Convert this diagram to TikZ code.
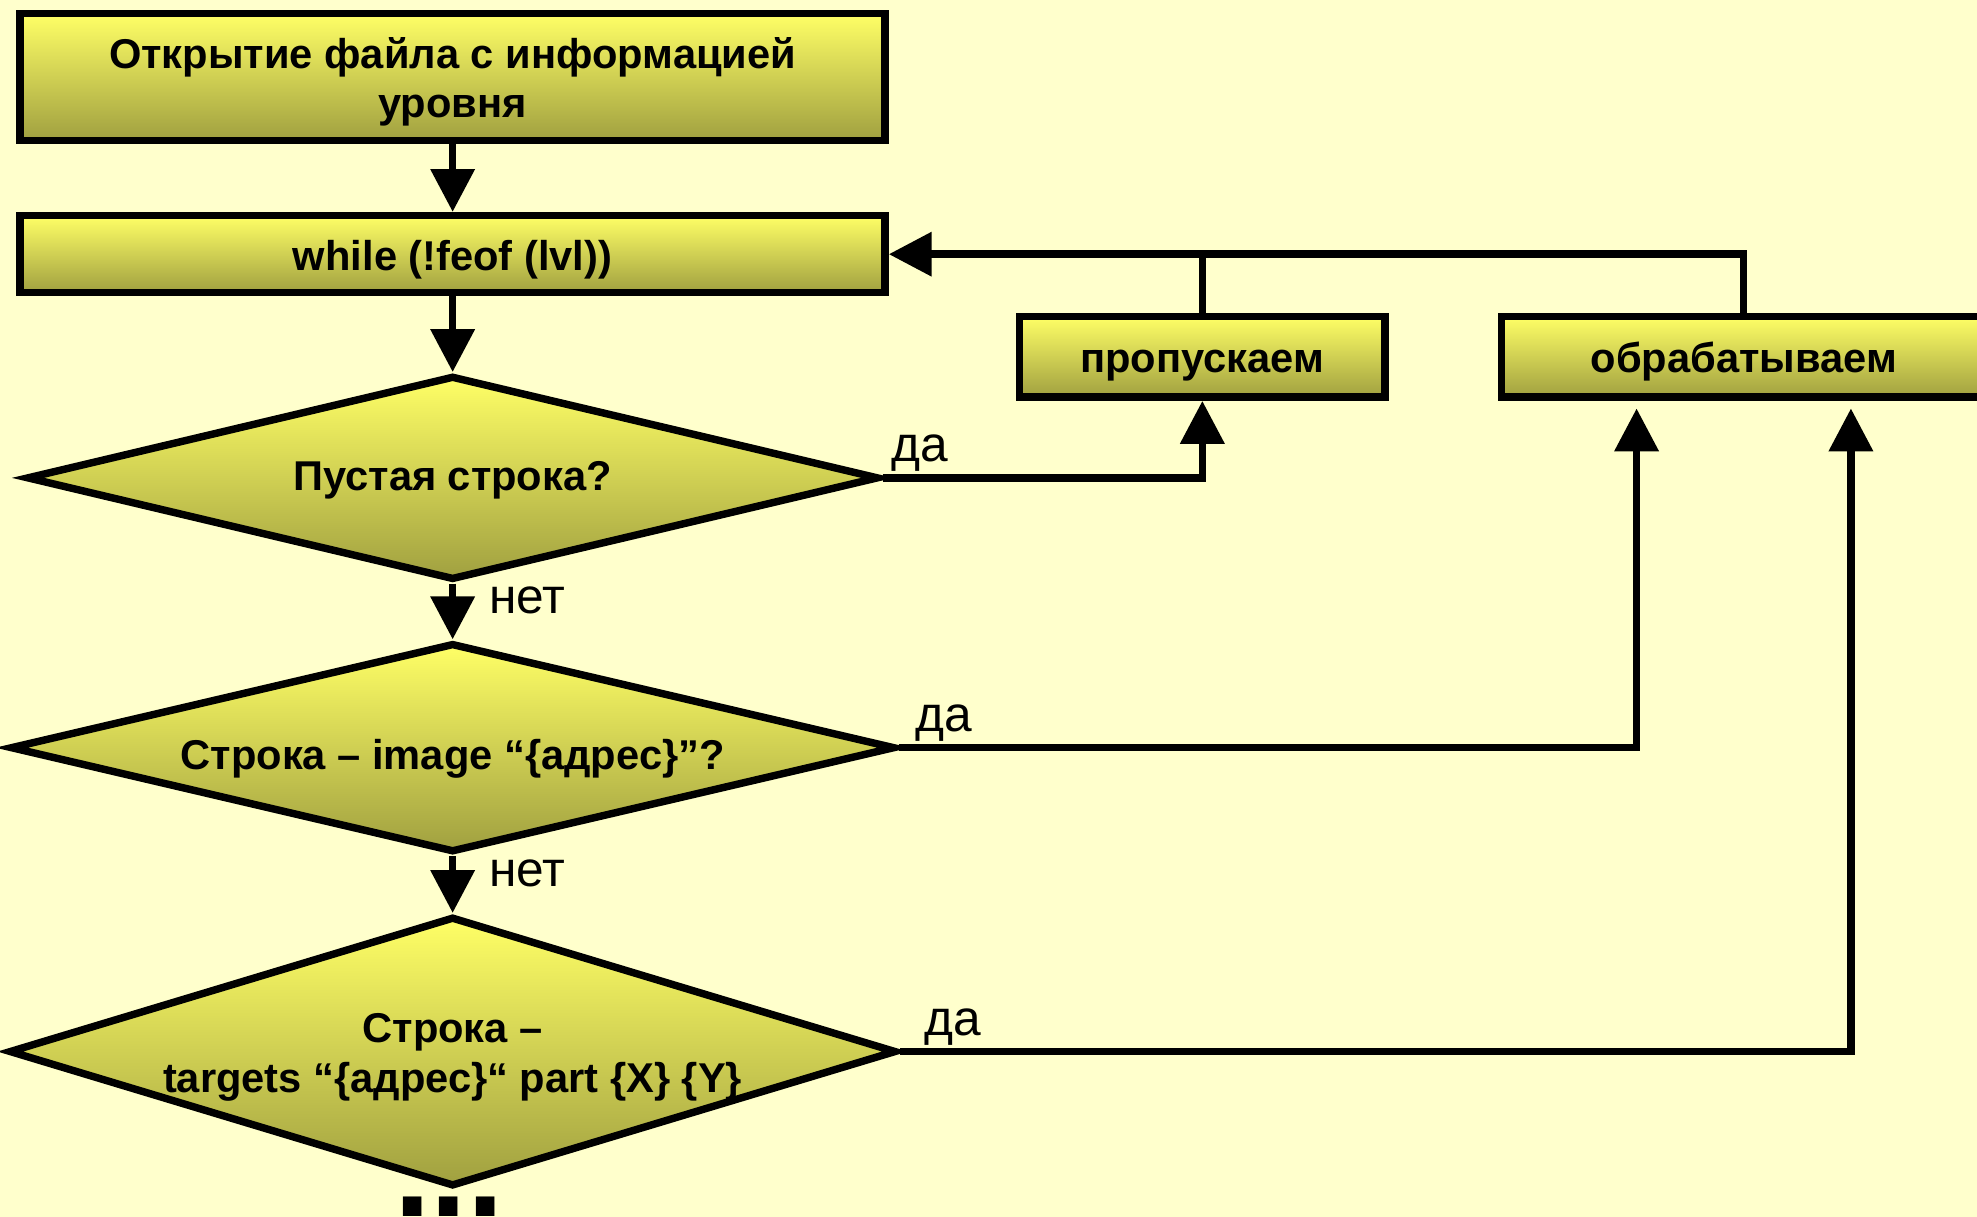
\documentclass[tikz,border=0pt]{standalone}
\usepackage{fontspec}
\setmainfont{Liberation Sans}
\usetikzlibrary{shapes.geometric,arrows.meta,positioning}
\definecolor{bgyellow}{HTML}{FFFFCC}
\definecolor{boxtop}{HTML}{FFFF66}
\definecolor{boxbottom}{HTML}{A0A040}

\begin{document}
\begin{tikzpicture}[
  blk/.style={draw,line width=4.2pt,top color=boxtop,bottom color=boxbottom,
    font=\fontsize{23.5}{28}\selectfont\bfseries,align=center,inner sep=0pt,
    execute at begin node={\rule{0pt}{23pt}}},
  dia/.style={draw,line width=4.2pt,top color=boxtop,bottom color=boxbottom,
    diamond,line join=miter,inner sep=0pt},
  txt/.style={font=\fontsize{23.5}{28}\selectfont\bfseries,align=center},
  lbl/.style={font=\fontsize{28}{30}\selectfont,inner sep=1.5pt},
  lnk/.style={line width=4.2pt},
  arr/.style={lnk,-{Triangle[length=0.85cm,width=0.85cm]}}
]
\fill[bgyellow] (0,0) rectangle (39.2,-24.125);
\useasboundingbox (0,0) rectangle (39.2,-24.125);

\node[blk,minimum width=17.15cm,minimum height=2.52cm] (open) at (8.975,-1.525) {};
\node[txt] (t0) at ([yshift=-0.1cm]open) {Открытие файла с информацией\\уровня};
\node[blk,minimum width=17.15cm,minimum height=1.53cm] (loop) at (8.975,-5.04) {while (!feof (lvl))};
\node[blk,minimum width=7.25cm,minimum height=1.6cm] (skip) at (23.84,-7.075) {пропускаем};
\node[blk,minimum width=9.6cm,minimum height=1.6cm] (proc) at (34.575,-7.075) {обрабатываем};

\node[dia,minimum width=16.9cm,minimum height=4.05cm] (d1) at (8.975,-9.475) {};
\node[txt] (t1) at ([yshift=-0.05cm]d1) {Пустая строка?};
\node[dia,minimum width=17.55cm,minimum height=4.15cm] (d2) at (8.975,-14.825) {};
\node[txt] (t2) at ([yshift=-0.22cm]d2) {Строка – image “\{адрес\}”?};
\node[dia,minimum width=17.6cm,minimum height=5.35cm] (d3) at (8.975,-20.85) {};
\node[txt] (t3) at ([yshift=-0.12cm]d3) {Строка –\\targets “\{адрес\}“ part \{X\} \{Y\}};

\node[font=\fontsize{74}{74}\selectfont\bfseries,anchor=base,inner sep=0pt] (more) at (8.9,-24.125) {...};

\draw[arr] (open) -- (loop);
\draw[arr] (loop) -- (d1);
\draw[arr] (d1) -- node[lbl,right=0.6cm,pos=0.3] (no1) {нет} (d2);
\draw[arr] (d2) -- node[lbl,right=0.6cm,pos=0.3] (no2) {нет} (d3);

\draw[arr] (d1.east) -| node[lbl,pos=0,above right,xshift=0.05cm] (yes1) {да} (skip.south);
\draw[arr,shorten >=0.15cm] (d2.east) -| node[lbl,pos=0,above right,xshift=0.2cm] (yes2) {да} ([xshift=-2.125cm]proc.south);
\draw[arr,shorten >=0.15cm] (d3.east) -| node[lbl,pos=0,above right,xshift=0.35cm] (yes3) {да} ([xshift=2.125cm]proc.south);

\draw[arr] (proc.north) |- (loop.east);
\draw[lnk] (skip.north) -- (skip.north |- loop.east);
\end{tikzpicture}
\end{document}
